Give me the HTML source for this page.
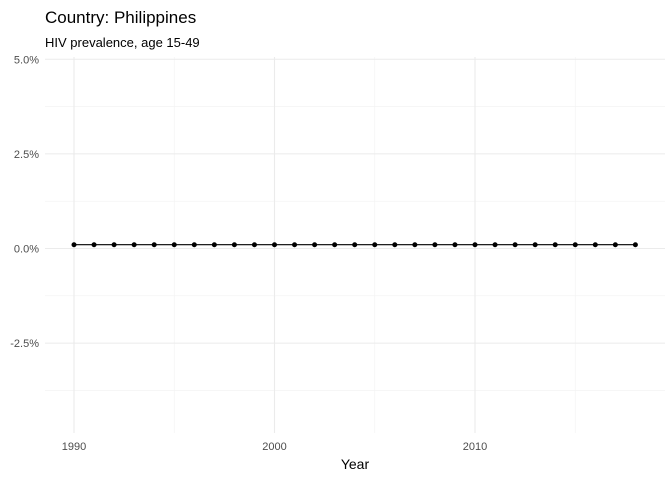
<!DOCTYPE html>
<html><head><meta charset="utf-8"><style>
body{margin:0;background:#fff;font-family:"Liberation Sans",sans-serif}
</style></head><body>
<svg width="672" height="480" xmlns="http://www.w3.org/2000/svg">
<text x="45" y="23" font-size="17" fill="#000">Country: Philippines</text>
<text x="45" y="47" font-size="13" fill="#000">HIV prevalence, age 15-49</text>
<g id="grid"></g>
<g id="marks"></g>
<g id="labels" font-size="11" fill="#4d4d4d"></g>
<text x="355" y="469" font-size="14" text-anchor="middle" fill="#000">Year</text>
</svg>
<script>
const years=[1990,1991,1992,1993,1994,1995,1996,1997,1998,1999,2000,2001,2002,2003,2004,2005,2006,2007,2008,2009,2010,2011,2012,2013,2014,2015,2016,2017,2018];
const values=[0.1,0.1,0.1,0.1,0.1,0.1,0.1,0.1,0.1,0.1,0.1,0.1,0.1,0.1,0.1,0.1,0.1,0.1,0.1,0.1,0.1,0.1,0.1,0.1,0.1,0.1,0.1,0.1,0.1];
const yTicks=[5,2.5,0,-2.5];
const yTickLabels=["5.0%","2.5%","0.0%","-2.5%"];
const yMinor=[3.75,1.25,-1.25,-3.75];
const xTicks=[1990,2000,2010];
const xMinor=[1995,2005,2015];
const NS="http://www.w3.org/2000/svg";
const xs=v=>74+(v-1990)*20.05;
const ys=v=>248.5-v*37.85;
const panelTop=57,panelBot=433,panelLeft=45,panelRight=665;
function mk(tag,attrs,parent){const e=document.createElementNS(NS,tag);for(const k in attrs)e.setAttribute(k,attrs[k]);document.getElementById(parent).appendChild(e);return e;}
yMinor.forEach(v=>{const e=mk('line',{x1:panelLeft,x2:panelRight,y1:ys(v),y2:ys(v),stroke:'#f2f2f2','stroke-width':0.6},'grid');

});
xMinor.forEach(v=>{const e=mk('line',{x1:xs(v),x2:xs(v),y1:panelTop,y2:panelBot,stroke:'#f2f2f2','stroke-width':0.6},'grid');

});
yTicks.forEach((v,i)=>{const e=mk('line',{x1:panelLeft,x2:panelRight,y1:ys(v),y2:ys(v),stroke:'#ebebeb','stroke-width':1.1},'grid');


const t=mk('text',{x:39,y:ys(v)+4,'text-anchor':'end'},'labels');t.textContent=yTickLabels[i];

});
xTicks.forEach(v=>{const e=mk('line',{x1:xs(v),x2:xs(v),y1:panelTop,y2:panelBot,stroke:'#ebebeb','stroke-width':1.1},'grid');


const t=mk('text',{x:xs(v),y:450,'text-anchor':'middle'},'labels');t.textContent=v;

});
const pl=mk('polyline',{points:years.map((yr,i)=>xs(yr)+','+ys(values[i])).join(' '),fill:'none',stroke:'#000','stroke-width':1.1},'marks');


years.forEach((yr,i)=>{const c=mk('circle',{cx:xs(yr),cy:ys(values[i]),r:2.5,fill:'#000'},'marks');

});
</script>
</body></html>
